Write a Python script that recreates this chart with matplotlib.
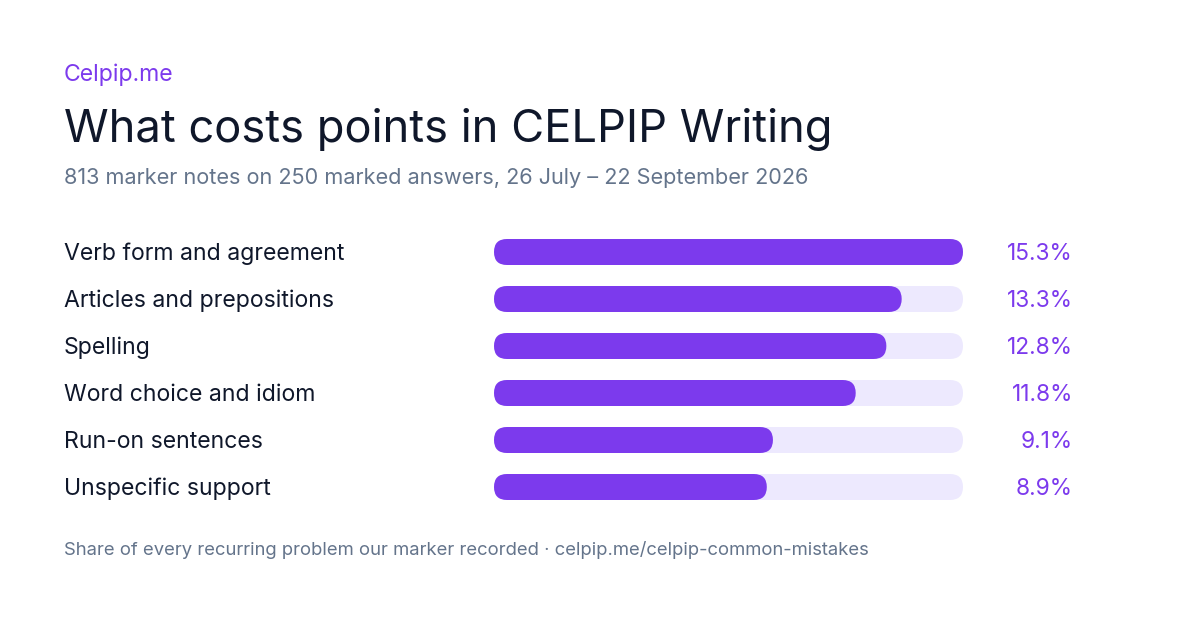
import matplotlib
matplotlib.use("Agg")
import matplotlib.pyplot as plt
from matplotlib.patches import FancyBboxPatch
from matplotlib.transforms import blended_transform_factory

categories = ["Verb form and agreement", "Articles and prepositions", "Spelling",
              "Word choice and idiom", "Run-on sentences", "Unspecific support"]
shares = [15.3, 13.3, 12.8, 11.8, 9.1, 8.9]
value_labels = ["15.3%", "13.3%", "12.8%", "11.8%", "9.1%", "8.9%"]

purple = "#7c3aed"
track = "#ede9fe"
ink = "#0f172a"
muted = "#64748b"

plt.rcParams["font.family"] = ["Inter", "DejaVu Sans"]

W, H = 1200, 630
fig = plt.figure(figsize=(W / 100, H / 100), dpi=100)
fig.patch.set_facecolor("white")

def fx(px):
    return px / W

def fy(py):
    return 1 - py / H

# bar area: x 494..963 px, rows every 47 px starting at 252
bar_left, bar_w = 494, 469
row_step, first_row = 47, 252
n = len(categories)
top = first_row - row_step / 2
bottom = first_row + (n - 0.5) * row_step
ax = fig.add_axes([fx(bar_left), fy(bottom), bar_w / W, (bottom - top) / H])
xmax = max(shares)
ax.set_xlim(0, xmax)
ax.set_ylim(n - 0.5, -0.5)
ax.axis("off")

bar_h = 26 / row_step
x_per_px = xmax / bar_w
y_per_px = 1 / row_step
aspect = y_per_px / x_per_px
rad = 13 * x_per_px

for i, v in enumerate(shares):
    ax.add_patch(FancyBboxPatch((0, i - bar_h / 2), xmax, bar_h,
                                boxstyle=f"round,pad=0,rounding_size={rad}",
                                mutation_aspect=aspect, fc=track, ec="none"))
    ax.add_patch(FancyBboxPatch((0, i - bar_h / 2), v, bar_h,
                                boxstyle=f"round,pad=0,rounding_size={rad}",
                                mutation_aspect=aspect, fc=purple, ec="none"))

tr = blended_transform_factory(fig.transFigure, ax.transData)
for i, (cat, lab) in enumerate(zip(categories, value_labels)):
    ax.text(fx(64), i + 0.045, cat, transform=tr, ha="left", va="center",
            fontsize=16.6, color=ink)
    ax.text(fx(1073), i + 0.045, lab, transform=tr, ha="right", va="center",
            fontsize=16.4, color=purple)

fig.text(fx(64), fy(74.5), "Celpip.me", fontsize=16.6, color=purple, va="center")
fig.text(fx(64), fy(129.5), "What costs points in CELPIP Writing", fontsize=32.6,
         color=ink, va="center")
fig.text(fx(64), fy(177.5), "813 marker notes on 250 marked answers, 26 July \u2013 22 September 2026",
         fontsize=15.6, color=muted, va="center")
fig.text(fx(64), fy(550), "Share of every recurring problem our marker recorded \u00b7 celpip.me/celpip-common-mistakes",
         fontsize=13.3, color=muted, va="center")

fig.savefig("out.png", dpi=100, facecolor="white")
